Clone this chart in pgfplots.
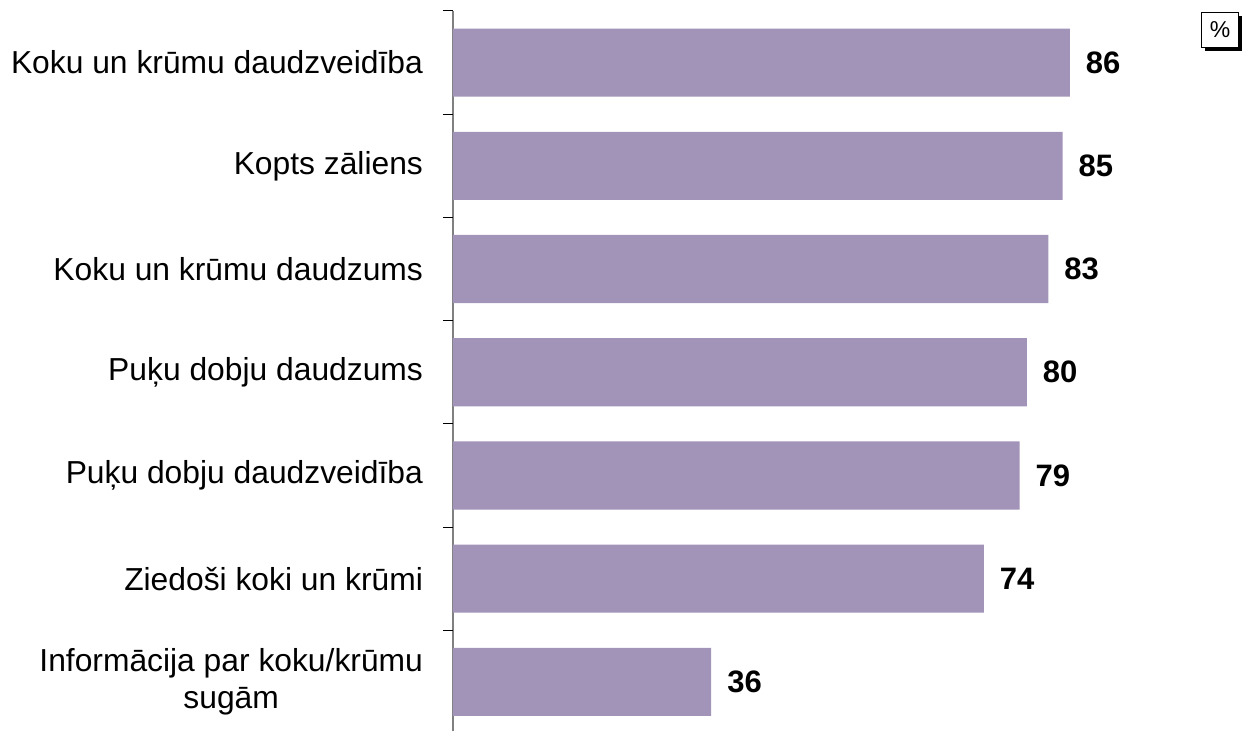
\documentclass[border=0pt]{standalone}
\usepackage{fontspec}
\setmainfont{Liberation Sans}
\usepackage{pgfplots}
\pgfplotsset{compat=1.18}
\usetikzlibrary{shadows}
\definecolor{barc}{RGB}{162,148,184}
\definecolor{axgray}{RGB}{128,128,128}
\begin{document}
\begin{tikzpicture}
\useasboundingbox (-226.5pt,0pt) rectangle (394.5pt,365.5pt);
\begin{axis}[
  at={(0,-1.25pt)}, anchor=south west,
  scale only axis, width=394.5pt, height=361.25pt,
  xbar, bar width=0.66,
  xmin=0, xmax=110, ymin=0.5, ymax=7.5, y dir=reverse,
  hide x axis,
  axis y line*=left,
  y axis line style={draw=axgray, line width=0.8pt, -},
  ytick={1,...,7},
  yticklabels={Koku un krūmu daudzveidība, Kopts zāliens, Koku un krūmu daudzums, Puķu dobju daudzums, Puķu dobju daudzveidība, Ziedoši koki un krūmi, {Informācija par koku/krūmu\\sugām}},
  major tick length=0pt,
  yticklabel style={font=\fontsize{15.9}{18.5}\selectfont, align=center, anchor=east, xshift=-11.5pt},
  extra y ticks={0.5,1.5,2.5,3.5,4.5,5.5,6.5},
  extra y tick labels={},
  extra y tick style={major tick length=5pt, tick align=outside, tick style={black, line width=0.5pt}},
  /pgf/number format/assume math mode=true,
  nodes near coords,
  nodes near coords style={font=\bfseries\fontsize{15.5}{18}\selectfont, anchor=west, xshift=4.5pt, black},
]
\addplot[fill=barc, draw=none] coordinates {(86,1) (85,2) (83,3) (80,4) (79,5) (74,6) (36,7)};
\end{axis}
\node[draw=black, fill=white, line width=0.5pt, minimum width=18.5pt, minimum height=17.5pt, inner sep=0pt,
  drop shadow={shadow xshift=1.8pt, shadow yshift=-2pt, fill=black, opacity=1},
  font=\fontsize{11.5}{13}\selectfont] at (383.5pt,350.5pt) {\%};
\end{tikzpicture}
\end{document}
